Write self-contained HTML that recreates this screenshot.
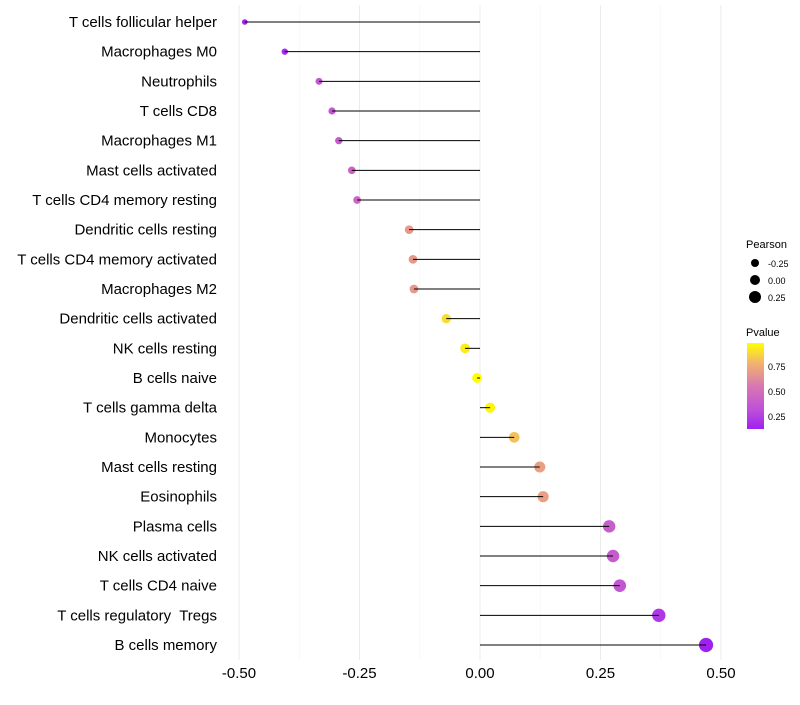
<!DOCTYPE html>
<html><head><meta charset="utf-8"><style>
body{margin:0;background:#fff;font-family:"Liberation Sans",sans-serif}
svg text{font-family:"Liberation Sans",sans-serif;white-space:pre}
</style></head><body>
<svg id="c" width="800" height="700">
<defs><linearGradient id="pg" x1="0" y1="1" x2="0" y2="0">
<stop offset="0" stop-color="#A020F0"/><stop offset="0.22" stop-color="#BE4FDA"/><stop offset="0.5" stop-color="#D878B0"/><stop offset="0.77" stop-color="#F2B46C"/><stop offset="1" stop-color="#FFFF00"/></linearGradient></defs>
<g id="grid"></g><g id="points"></g><g id="marks"></g><g id="labels"></g>
<g>
<text x="746" y="248" font-size="11">Pearson</text>
<circle cx="755" cy="263" r="4" fill="#000"/><text x="768" y="267" font-size="9">-0.25</text>
<circle cx="755" cy="280" r="5" fill="#000"/><text x="768" y="284" font-size="9">0.00</text>
<circle cx="755" cy="297" r="6" fill="#000"/><text x="768" y="301" font-size="9">0.25</text>
<text x="746" y="336" font-size="11">Pvalue</text>
<rect x="747" y="343" width="17" height="86" fill="url(#pg)"/>
<text x="768" y="370" font-size="9">0.75</text><text x="768" y="395" font-size="9">0.50</text><text x="768" y="420" font-size="9">0.25</text>
</g>
</svg>
<script>
const categories=["T cells follicular helper","Macrophages M0","Neutrophils","T cells CD8","Macrophages M1","Mast cells activated","T cells CD4 memory resting","Dendritic cells resting","T cells CD4 memory activated","Macrophages M2","Dendritic cells activated","NK cells resting","B cells naive","T cells gamma delta","Monocytes","Mast cells resting","Eosinophils","Plasma cells","NK cells activated","T cells CD4 naive","T cells regulatory  Tregs","B cells memory"];
const pearson=[-0.488,-0.405,-0.334,-0.307,-0.293,-0.266,-0.255,-0.147,-0.139,-0.137,-0.07,-0.031,-0.006,0.021,0.071,0.124,0.131,0.268,0.276,0.29,0.371,0.469];
const pvalue=[0.05,0.1,0.3,0.3,0.33,0.38,0.4,0.65,0.65,0.65,0.88,0.93,0.98,0.95,0.8,0.68,0.68,0.35,0.33,0.3,0.15,0.05];
const xTicks=[-0.5,-0.25,0,0.25,0.5];
const xTickLabels=["-0.50","-0.25","0.00","0.25","0.50"];
const NS="http://www.w3.org/2000/svg";
const X=v=>480+v*482;
const Y=i=>22+i*(623/21);
const R=v=>Math.max(1.7,5+4.5*v);
const stops=[[0,[160,32,240]],[0.22,[190,79,218]],[0.5,[216,120,176]],[0.77,[242,180,108]],[1,[255,255,0]]];
function col(p){let t=(p-0.05)/(0.98-0.05);t=Math.max(0,Math.min(1,t));
for(let k=1;k<stops.length;k++){if(t<=stops[k][0]){const a=stops[k-1],b=stops[k];const f=(t-a[0])/(b[0]-a[0]);
return"rgb("+a[1].map((c,j)=>Math.round(c+(b[1][j]-c)*f)).join(",")+")";}}return"rgb(255,255,0)";}
function mk(t,a,p){const e=document.createElementNS(NS,t);for(const k in a)e.setAttribute(k,a[k]);p.appendChild(e);return e;}
const g=document.getElementById("grid"),m=document.getElementById("marks"),pts=document.getElementById("points"),lb=document.getElementById("labels");
for(let k=0;k<xTicks.length;k++){
 const l=mk("line",{x1:X(xTicks[k]),x2:X(xTicks[k]),y1:5,y2:660,stroke:"#ebebeb","stroke-width":1},g);
 
 
 if(k<xTicks.length-1){const mv=(xTicks[k]+xTicks[k+1])/2;
  mk("line",{x1:X(mv),x2:X(mv),y1:5,y2:660,stroke:"#f4f4f4","stroke-width":0.6},g);}
 const t=mk("text",{x:X(xTicks[k]),y:678,"font-size":15,"text-anchor":"middle",fill:"#000"},lb);
 t.textContent=xTickLabels[k];
 
 
}
categories.forEach((c,i)=>{
 const y=Y(i);
 const t=mk("text",{x:217,y:y+5,"font-size":15,"text-anchor":"end",fill:"#000"},lb);
 t.textContent=c;
 
 
 const ci=mk("circle",{cx:X(pearson[i]),cy:y,r:R(pearson[i]),fill:col(pvalue[i])},pts);
 
 
 const ln=mk("line",{x1:X(0),x2:X(pearson[i]),y1:y,y2:y,stroke:"#000","stroke-width":1},m);
 
 
});
</script>
</body></html>
